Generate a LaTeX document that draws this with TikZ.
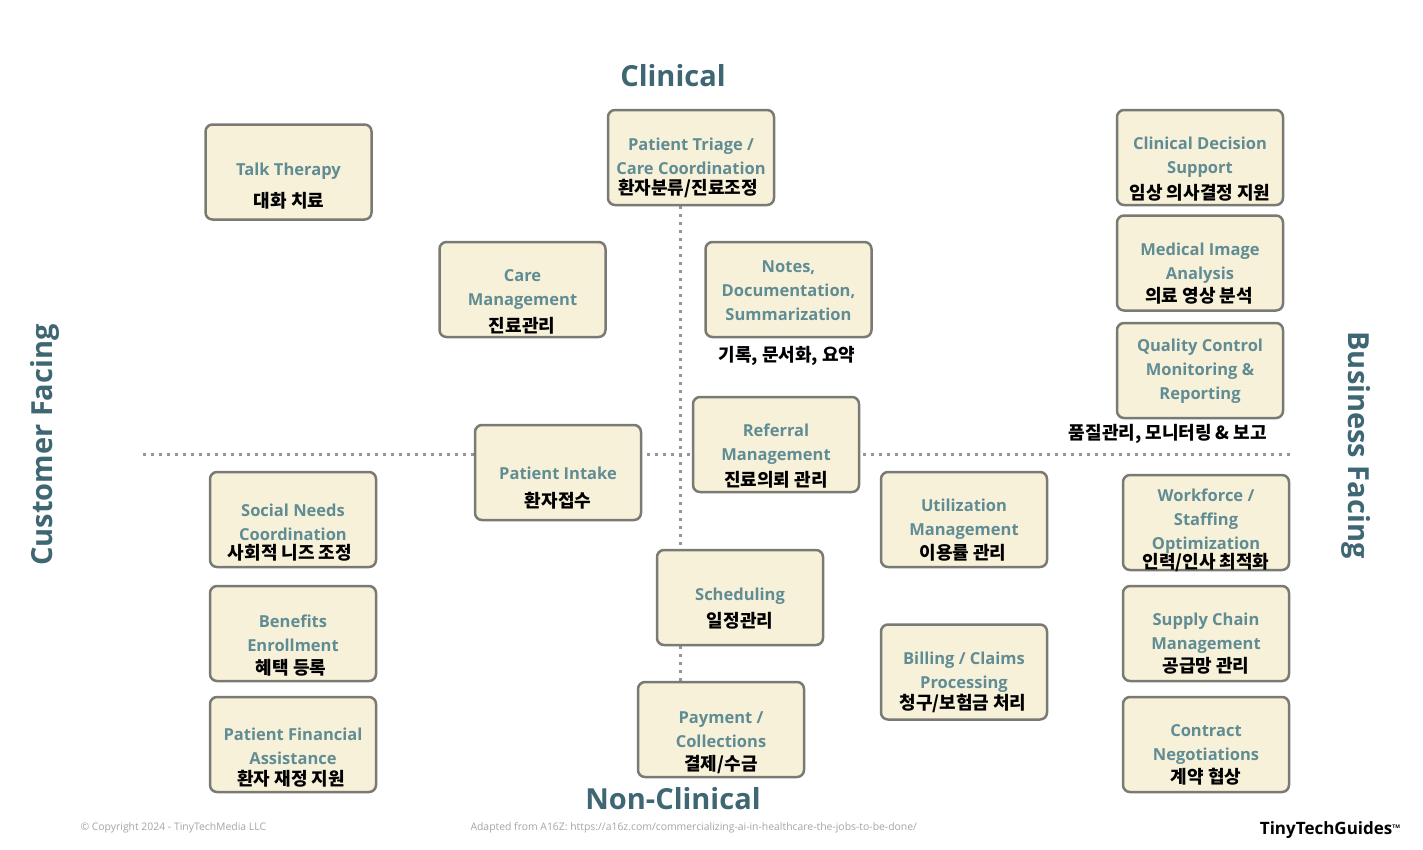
\documentclass[tikz,border=0pt]{standalone}
\usepackage{fontspec}
\setmainfont{Open Sans}
\newfontfamily\krfont{Noto Sans CJK KR}
\newfontfamily\titlefont{Open Sans}
\usetikzlibrary{positioning}
\definecolor{boxfill}{RGB}{248,241,218}
\definecolor{boxline}{RGB}{122,122,116}
\definecolor{labelteal}{RGB}{96,140,148}
\definecolor{axisteal}{RGB}{62,102,115}
\definecolor{dotgray}{RGB}{150,150,150}
\definecolor{footgray}{RGB}{165,165,165}
\tikzset{
  usecase/.style={draw=boxline, fill=boxfill, line width=2.5pt, rounded corners=7pt,
    minimum width=166pt, minimum height=95pt, inner sep=0pt},
  entext/.style={font=\fontsize{16.5}{24}\selectfont\bfseries, text=labelteal, align=center},
  kotext/.style={font=\krfont\fontsize{18}{20}\selectfont\bfseries, text=black},
  axislabel/.style={font=\titlefont\fontsize{29}{34}\selectfont\bfseries, text=axisteal},
  axisline/.style={dotgray, line width=3pt, dash pattern=on 3pt off 5pt},
}

\begin{document}
\begin{tikzpicture}[x=1pt, y=-1pt]
        \useasboundingbox[fill=white] (0,0) rectangle (1423,849);
        % Quadrant axes (dotted)
        \coordinate (hleft) at (143,454);
        \coordinate (hright) at (1290,454);
        \coordinate (vtop) at (680,206);
        \coordinate (vbottom) at (680,682);
        \draw[axisline] (hleft) -- (hright);
        \draw[axisline] (vtop) -- (vbottom);
        % Axis labels
        \node[axislabel] (clinical) at (673,76) {Clinical};
        \node[axislabel] (nonclinical) at (673,799) {Non-Clinical};
        \node[axislabel, rotate=90] (customer) at (45,445) {Customer Facing};
        \node[axislabel, rotate=-90] (business) at (1356,445) {Business Facing};
        % Clinical / customer facing
        \node[usecase] (talk) at (288.5,172) {};
        \node[entext] (talk-en) at (288.5,171) {Talk Therapy};
        \node[kotext] (talk-ko) at (289,201) {대화 치료};
        \node[usecase] (care) at (522.5,289.5) {};
        \node[entext] (care-en) at (522.5,290) {Care\\Management};
        \node[kotext] (care-ko) at (522,326) {진료관리};
        \node[usecase] (intake) at (558,472.5) {};
        \node[entext] (intake-en) at (558,473) {Patient Intake};
        \node[kotext] (intake-ko) at (558,501) {환자접수};
        % Clinical / business facing
        \node[usecase] (triage) at (691,157.5) {};
        \node[entext] (triage-en) at (691,156) {Patient Triage /\\Care Coordination};
        \node[kotext] (triage-ko) at (688,189) {환자분류/진료조정};
        \node[usecase] (notes) at (788.5,289.5) {};
        \node[entext] (notes-en) at (788.5,291) {Notes,\\Documentation,\\Summarization};
        \node[kotext] (notes-ko) at (787,356) {기록, 문서화, 요약};
        \node[usecase] (referral) at (776,444.5) {};
        \node[entext] (referral-en) at (776,444) {Referral\\Management};
        \node[kotext] (referral-ko) at (776,480) {진료의뢰 관리};
        \node[usecase] (cds) at (1200,157.5) {};
        \node[entext] (cds-en) at (1200,157.5) {Clinical Decision\\Support};
        \node[kotext] (cds-ko) at (1200,193) {임상 의사결정 지원};
        \node[usecase] (mia) at (1200,263) {};
        \node[entext] (mia-en) at (1200,263) {Medical Image\\Analysis};
        \node[kotext] (mia-ko) at (1199,296) {의료 영상 분석};
        \node[usecase] (qc) at (1200,370.5) {};
        \node[entext] (qc-en) at (1200,371) {Quality Control\\Monitoring \&\\Reporting};
        \node[kotext] (qc-ko) at (1168,434) {품질관리, 모니터링 \& 보고};
        % Non-clinical / customer facing
        \node[usecase] (social) at (293,519.5) {};
        \node[entext] (social-en) at (293,522) {Social Needs\\Coordination};
        \node[kotext] (social-ko) at (290,553) {사회적 니즈 조정};
        \node[usecase] (benefits) at (293,633.5) {};
        \node[entext] (benefits-en) at (293,633) {Benefits\\Enrollment};
        \node[kotext] (benefits-ko) at (291,668) {혜택 등록};
        \node[usecase] (pfa) at (293,744.5) {};
        \node[entext] (pfa-en) at (293,746) {Patient Financial\\Assistance};
        \node[kotext] (pfa-ko) at (291,779) {환자 재정 지원};
        \node[usecase] (sched) at (740,597.5) {};
        \node[entext] (sched-en) at (740,596) {Scheduling};
        \node[kotext] (sched-ko) at (740,621) {일정관리};
        \node[usecase] (payment) at (721,729.5) {};
        \node[entext] (payment-en) at (721,730) {Payment /\\Collections};
        \node[kotext] (payment-ko) at (721,765) {결제/수금};
        % Non-clinical / business facing
        \node[usecase] (util) at (964,519.5) {};
        \node[entext] (util-en) at (964,519) {Utilization\\Management};
        \node[kotext] (util-ko) at (963,553) {이용률 관리};
        \node[usecase] (billing) at (964,672) {};
        \node[entext] (billing-en) at (964,672) {Billing / Claims\\Processing};
        \node[kotext] (billing-ko) at (963,703) {청구/보험금 처리};
        \node[usecase] (workforce) at (1206,522.5) {};
        \node[entext] (workforce-en) at (1206,521) {Workforce /\\Staffing\\Optimization};
        \node[kotext] (workforce-ko) at (1206,563) {인력/인사 최적화};
        \node[usecase] (supply) at (1206,633.5) {};
        \node[entext] (supply-en) at (1206,633) {Supply Chain\\Management};
        \node[kotext] (supply-ko) at (1206,666) {공급망 관리};
        \node[usecase] (contract) at (1206,744.5) {};
        \node[entext] (contract-en) at (1206,744) {Contract\\Negotiations};
        \node[kotext] (contract-ko) at (1206,777) {계약 협상};
        % Footer
        \node[font=\fontsize{10.4}{12}\selectfont, text=footgray, anchor=west] (copyright) at (77,828) {\textcopyright{} Copyright 2024 - TinyTechMedia LLC};
        \node[font=\fontsize{10.4}{12}\selectfont, text=footgray, anchor=west] (source) at (467,828) {Adapted from A16Z: https://a16z.com/commercializing-ai-in-healthcare-the-jobs-to-be-done/};
        \node[font=\fontsize{17}{20}\selectfont\bfseries, anchor=east] (brand) at (1404,830) {TinyTechGuides\textsuperscript{\tiny TM}};
\end{tikzpicture}
\end{document}
